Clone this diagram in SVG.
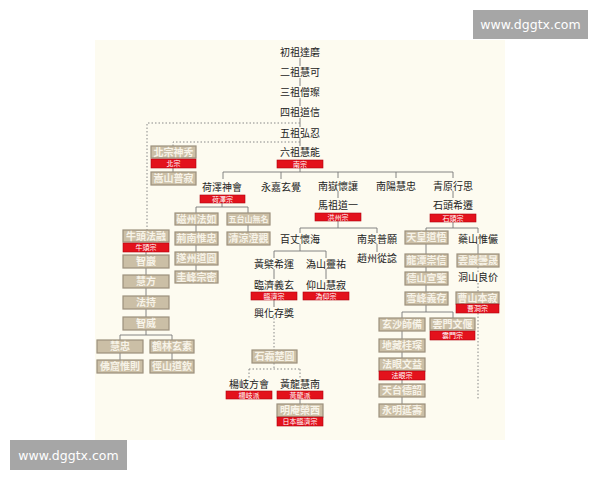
<svg xmlns="http://www.w3.org/2000/svg" width="600" height="480" viewBox="0 0 600 480">
<style>
.t{font-family:"Noto Sans CJK TC","Noto Sans CJK SC",sans-serif;font-size:10px;fill:#222;text-anchor:middle}
.b{fill:#cbbfa6;stroke:#9c907c;stroke-width:1.2}
.bt{font-family:"Noto Sans CJK TC","Noto Sans CJK SC",sans-serif;font-size:10px;font-weight:bold;fill:#f7f3e8;text-anchor:middle}
.r{fill:#e3121c;stroke:#b00010;stroke-width:0.6}
.rt{font-family:"Noto Sans CJK TC","Noto Sans CJK SC",sans-serif;font-size:7px;fill:#fff;text-anchor:middle}
.c{stroke:#777;stroke-width:0.9;fill:none}
.d{stroke:#888;stroke-width:1;fill:none;stroke-dasharray:1.5 2}
.wm{fill:#a6a6a6}
.wt{font-family:"DejaVu Sans",sans-serif;font-size:12.5px;fill:#fff;text-anchor:middle}
</style>
<rect width="600" height="480" fill="#fff"/>
<rect x="95" y="40" width="410" height="400" fill="#fdfbf0"/>
<g id="connectors">
<path class="c" d="M300 58V66M300 78V86M300 98V106M300 118V127M300 138V146"/>
<path class="d" d="M300 123H147V230M300 142H173V146"/>
<path class="c" d="M300 168V172M223 172H453M223 172V179M281 172V179M338 172V178M396 172V178M453 172V178"/>
<path class="c" d="M173 168V172"/>
<path class="c" d="M222 203V207M196 207H248M196 207V213M248 207V213"/>
<path class="c" d="M196 225V232M196 245V252M196 265V271M248 225V232"/>
<path class="c" d="M146 252V255M146 268V275M146 288V296M146 309V317M146 330V335M120 335H172M120 335V340M172 335V340M120 353V360M172 353V360"/>
<path class="c" d="M338 191V198M453 191V198"/>
<path class="c" d="M338 221V228M300 228H377M300 228V233M377 228V233M377 244V252"/>
<path class="c" d="M300 244V251M274 251H326M274 251V258M326 251V258M274 269V279M326 269V279M274 300V307"/>
<path class="d" d="M274 318V350M274 363V369M249 369H300M249 369V378M300 369V378"/>
<path class="c" d="M300 399V404"/>
<path class="c" d="M453 222V228M426 228H478M426 228V231M478 228V233M478 244V254"/>
<path class="c" d="M426 244V254M426 267V272M426 285V292M426 305V312M402 312H453M402 312V318M453 312V318"/>
<path class="d" d="M478 267V272M478 283V292M478 313V400"/>
<path class="c" d="M402 331V339M402 352V358M402 380V384M402 397V404"/>
</g>
<g id="n-damo"><text class="t" x="300" y="55.5">初祖達磨</text></g>
<g id="n-huike"><text class="t" x="300" y="75.5">二祖慧可</text></g>
<g id="n-sengcan"><text class="t" x="300" y="95.5">三祖僧璨</text></g>
<g id="n-daoxin"><text class="t" x="300" y="115.5">四祖道信</text></g>
<g id="n-hongren"><text class="t" x="300" y="136.5">五祖弘忍</text></g>
<g id="n-huineng"><text class="t" x="300" y="155.5">六祖慧能</text><rect class="r" x="277" y="160" width="46" height="8"/><text class="rt" x="300" y="166.5">南宗</text></g>
<g id="n-shenxiu"><rect class="b" x="151" y="146" width="45" height="12"/><text class="bt" x="173.5" y="155.5">北宗神秀</text><rect class="r" x="151" y="159" width="45" height="9"/><text class="rt" x="173.5" y="166">北宗</text></g>
<g id="n-puji"><rect class="b" x="151" y="172" width="45" height="13"/><text class="bt" x="173.5" y="182">嵩山普寂</text></g>
<g id="n-shenhui"><text class="t" x="222" y="190.5">荷澤神會</text><rect class="r" x="200" y="195" width="45" height="8"/><text class="rt" x="222.5" y="201.5">荷澤宗</text></g>
<g id="n-xuanjue"><text class="t" x="281" y="190.5">永嘉玄覺</text></g>
<g id="n-huairang"><text class="t" x="338" y="189.5">南嶽懷讓</text></g>
<g id="n-huizhong-ny"><text class="t" x="396" y="189.5">南陽慧忠</text></g>
<g id="n-xingsi"><text class="t" x="453" y="189.5">青原行思</text></g>
<g id="n-mazu"><text class="t" x="338" y="208.5">馬祖道一</text><rect class="r" x="315" y="213" width="46" height="8"/><text class="rt" x="338" y="219.5">洪州宗</text></g>
<g id="n-shitou"><text class="t" x="453" y="208.5">石頭希遷</text><rect class="r" x="430" y="214" width="46" height="8"/><text class="rt" x="453" y="220.5">石頭宗</text></g>
<g id="n-faru"><rect class="b" x="175" y="213" width="43" height="12"/><text class="bt" x="196.5" y="222.5">磁州法如</text></g>
<g id="n-wuming"><rect class="b" x="227" y="213" width="43" height="12"/><text class="bt" x="248.5" y="222" style="font-size:8px">五台山無名</text></g>
<g id="n-weizhong"><rect class="b" x="175" y="232" width="43" height="13"/><text class="bt" x="196.5" y="242">荊南惟忠</text></g>
<g id="n-chengguan"><rect class="b" x="227" y="232" width="43" height="13"/><text class="bt" x="248.5" y="242">清涼澄觀</text></g>
<g id="n-daoyuan"><rect class="b" x="175" y="252" width="43" height="13"/><text class="bt" x="196.5" y="262">遂州道圓</text></g>
<g id="n-zongmi"><rect class="b" x="175" y="271" width="43" height="12"/><text class="bt" x="196.5" y="280.5">圭峰宗密</text></g>
<g id="n-farong"><rect class="b" x="123" y="230" width="46" height="12"/><text class="bt" x="146" y="239.5">牛頭法融</text><rect class="r" x="123" y="243" width="46" height="9"/><text class="rt" x="146" y="250">牛頭宗</text></g>
<g id="n-zhiyan"><rect class="b" x="123" y="255" width="46" height="13"/><text class="bt" x="146" y="265">智巖</text></g>
<g id="n-huifang"><rect class="b" x="123" y="275" width="46" height="13"/><text class="bt" x="146" y="285">慧方</text></g>
<g id="n-fachi"><rect class="b" x="123" y="296" width="46" height="13"/><text class="bt" x="146" y="306">法持</text></g>
<g id="n-zhiwei"><rect class="b" x="123" y="317" width="46" height="13"/><text class="bt" x="146" y="327">智威</text></g>
<g id="n-huizhong"><rect class="b" x="97" y="340" width="46" height="13"/><text class="bt" x="120" y="350">慧忠</text></g>
<g id="n-xuansu"><rect class="b" x="150" y="340" width="44" height="13"/><text class="bt" x="172" y="350">鶴林玄素</text></g>
<g id="n-weize"><rect class="b" x="97" y="360" width="46" height="13"/><text class="bt" x="120" y="370">佛窟惟則</text></g>
<g id="n-daoqin"><rect class="b" x="150" y="360" width="44" height="13"/><text class="bt" x="172" y="370">徑山道欽</text></g>
<g id="n-huaihai"><text class="t" x="300" y="242.5">百丈懷海</text></g>
<g id="n-puyuan"><text class="t" x="377" y="242.5">南泉普願</text></g>
<g id="n-congshen"><text class="t" x="377" y="261.5">趙州從諗</text></g>
<g id="n-xiyun"><text class="t" x="274" y="267.5">黃檗希運</text></g>
<g id="n-lingyou"><text class="t" x="326" y="267.5">溈山靈祐</text></g>
<g id="n-yixuan"><text class="t" x="274" y="288.5">臨濟義玄</text><rect class="r" x="251" y="292" width="46" height="8"/><text class="rt" x="274" y="298.5">臨濟宗</text></g>
<g id="n-huiji"><text class="t" x="326" y="288.5">仰山慧寂</text><rect class="r" x="303" y="292" width="46" height="8"/><text class="rt" x="326" y="298.5">溈仰宗</text></g>
<g id="n-cunjiang"><text class="t" x="274" y="316.5">興化存獎</text></g>
<g id="n-chuyuan"><rect class="b" x="252" y="350" width="45" height="13"/><text class="bt" x="274.5" y="360">石霜楚圓</text></g>
<g id="n-fanghui"><text class="t" x="249" y="387.5">楊岐方會</text><rect class="r" x="226" y="391" width="46" height="8"/><text class="rt" x="249" y="397.5">楊岐派</text></g>
<g id="n-huinan"><text class="t" x="300" y="387.5">黃龍慧南</text><rect class="r" x="277" y="391" width="46" height="8"/><text class="rt" x="300" y="397.5">黃龍派</text></g>
<g id="n-eisai"><rect class="b" x="277" y="404" width="46" height="13"/><text class="bt" x="300" y="414">明庵榮西</text><rect class="r" x="277" y="417" width="46" height="9"/><text class="rt" x="300" y="424">日本臨濟宗</text></g>
<g id="n-daowu"><rect class="b" x="405" y="231" width="43" height="13"/><text class="bt" x="426.5" y="241">天皇道悟</text></g>
<g id="n-weiyan"><text class="t" x="478" y="242.5">藥山惟儼</text></g>
<g id="n-chongxin"><rect class="b" x="405" y="254" width="43" height="13"/><text class="bt" x="426.5" y="264">龍潭崇信</text></g>
<g id="n-tansheng"><rect class="b" x="457" y="254" width="42" height="13"/><text class="bt" x="478" y="264">雲巖曇晟</text></g>
<g id="n-xuanjian"><rect class="b" x="405" y="272" width="43" height="13"/><text class="bt" x="426.5" y="282">德山宣鑒</text></g>
<g id="n-liangjie"><text class="t" x="478" y="280.5">洞山良价</text></g>
<g id="n-yicun"><rect class="b" x="405" y="292" width="43" height="13"/><text class="bt" x="426.5" y="302">雪峰義存</text></g>
<g id="n-benji"><rect class="b" x="456" y="292" width="43" height="12"/><text class="bt" x="477.5" y="301.5">曹山本寂</text><rect class="r" x="456" y="304" width="43" height="9"/><text class="rt" x="477.5" y="311">曹洞宗</text></g>
<g id="n-shibei"><rect class="b" x="379" y="318" width="46" height="13"/><text class="bt" x="402" y="328">玄沙師備</text></g>
<g id="n-wenyan"><rect class="b" x="430" y="318" width="45" height="12"/><text class="bt" x="452.5" y="327.5">雲門文偃</text><rect class="r" x="430" y="331" width="45" height="9"/><text class="rt" x="452.5" y="338">雲門宗</text></g>
<g id="n-guichen"><rect class="b" x="379" y="339" width="46" height="13"/><text class="bt" x="402" y="349">地藏桂琛</text></g>
<g id="n-wenyi"><rect class="b" x="379" y="358" width="46" height="13"/><text class="bt" x="402" y="368">法眼文益</text><rect class="r" x="379" y="371" width="46" height="9"/><text class="rt" x="402" y="378">法眼宗</text></g>
<g id="n-deshao"><rect class="b" x="379" y="384" width="46" height="13"/><text class="bt" x="402" y="394">天台德韶</text></g>
<g id="n-yanshou"><rect class="b" x="379" y="404" width="46" height="13"/><text class="bt" x="402" y="414">永明延壽</text></g>
<g id="watermarks">
<rect class="wm" x="473" y="10" width="115" height="29"/><text class="wt" x="530.5" y="29">www.dggtx.com</text>
<rect class="wm" x="10" y="440" width="117" height="30"/><text class="wt" x="68.5" y="459.5">www.dggtx.com</text>
</g>
</svg>
